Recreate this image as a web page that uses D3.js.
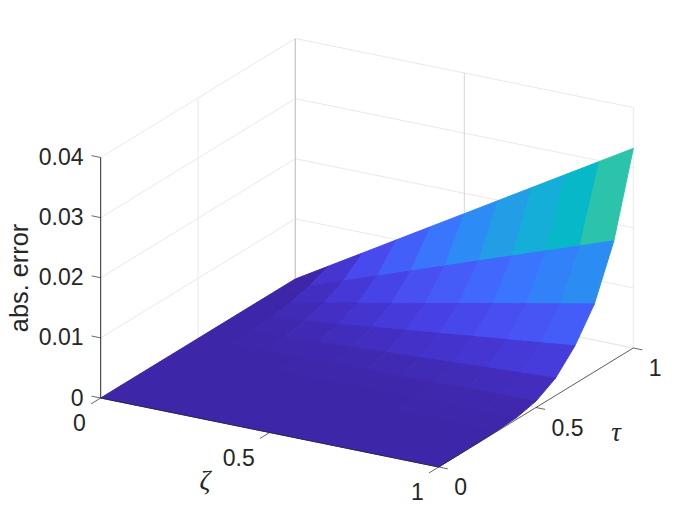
<!DOCTYPE html>
<html><head><meta charset="utf-8">
<script src="https://cdn.jsdelivr.net/npm/d3@7"></script>
<style>html,body{margin:0;padding:0;background:#fff}svg{display:block}</style>
</head><body><svg id="c" width="700" height="525"></svg>
<script>
const zetaValues = [0, 0.1, 0.2, 0.3, 0.4, 0.5, 0.6, 0.7, 0.8, 0.9, 1];
const tauValues  = [0, 0.1, 0.2, 0.3, 0.4, 0.5, 0.6, 0.7, 0.8, 0.9, 1];
// absolute error, one row per tau, one column per zeta
const row00 = [0,0,0,0,0,0,0,0,0,0,0];
const row01 = [0,0,0,0,0,0.00001,0.00001,0.00001,0.00001,0.00001,0.00001];
const row02 = [0,0,0.00001,0.00001,0.00001,0.00002,0.00002,0.00002,0.00002,0.00003,0.00003];
const row03 = [0,0.00001,0.00002,0.00003,0.00004,0.00005,0.00006,0.00007,0.00008,0.00009,0.0001];
const row04 = [0,0.00003,0.00006,0.00009,0.00012,0.00015,0.00018,0.00021,0.00024,0.00027,0.0003];
const row05 = [0,0.00011,0.00021,0.00032,0.00043,0.00054,0.00064,0.00075,0.00086,0.00096,0.00107];
const row06 = [0,0.00029,0.00058,0.00087,0.00116,0.00145,0.00174,0.00203,0.00232,0.00261,0.0029];
const row07 = [0,0.00063,0.00126,0.00189,0.00252,0.00315,0.00378,0.00441,0.00504,0.00567,0.0063];
const row08 = [0,0.00113,0.00226,0.00339,0.00452,0.00565,0.00678,0.00791,0.00904,0.01017,0.0113];
const row09 = [0,0.00198,0.00396,0.00594,0.00792,0.0099,0.01188,0.01386,0.01584,0.01782,0.0198];
const row10 = [0,0.00332,0.00664,0.00996,0.01328,0.0166,0.01992,0.02324,0.02656,0.02988,0.0332];
const errorRows = [row00,row01,row02,row03,row04,row05,row06,row07,row08,row09,row10];
const zetaTicks = [0, 0.5, 1];
const tauTicks  = [0, 0.5, 1];
const zTicks    = [0, 0.01, 0.02, 0.03, 0.04];
const zTickLabels = ["0","0.01","0.02","0.03","0.04"];
const paletteAt    = [0, 0.048, 0.095, 0.143, 0.222, 0.286, 0.333, 0.429, 0.5, 0.54, 0.714, 0.857, 1];
const paletteStops = ["#3e26a8","#4432cb","#4741e5","#4852f4","#3e6fff","#2e87f7","#2796eb","#12b1d6","#02bcc2","#2fc5a8","#abc739","#fec338","#f9fb14"];

// oblique projection, built from scales
const zetaX = d3.scaleLinear().domain([0,1]).range([0,338]);
const zetaY = d3.scaleLinear().domain([0,1]).range([0,69]);
const tauX  = d3.scaleLinear().domain([0,1]).range([0,194.6]);
const tauY  = d3.scaleLinear().domain([0,1]).range([0,-119]);
const zY    = d3.scaleLinear().domain([0,0.04]).range([0,-240.5]);
const originX = 100.7, originY = 398;
const px = (a,t) => originX + zetaX(a) + tauX(t);
const py = (a,t,e) => originY + zetaY(a) + tauY(t) + zY(e);
const P = (a,t,e) => [px(a,t), py(a,t,e)];

const zMax = d3.max(errorRows.flat());
const color = d3.scaleLinear()
  .domain(paletteAt.map(f => f*zMax))
  .range(paletteStops).interpolate(d3.interpolateRgb).clamp(true);

const svg = d3.select("#c");
const line = (p,q,stroke,w) => svg.append("line")
  .attr("x1",p[0]).attr("y1",p[1]).attr("x2",q[0]).attr("y2",q[1])
  .attr("stroke",stroke).attr("stroke-width",w);

const gridC = "#e9e9e9", axisC = "#262626";
const zTop = zTicks[zTicks.length-1];
zTicks.forEach(z => {
  line(P(0,0,z),P(0,1,z),gridC,1);
  line(P(0,1,z),P(1,1,z),gridC,1);
});
tauTicks.forEach(t => { if (t>0) line(P(0,t,0),P(0,t,zTop),gridC,1); });
zetaTicks.forEach(a => line(P(a,1,0),P(a,1,zTop),a===0.5?"#d4d4d4":gridC,1));
line(P(0,1,0),P(0,1,zTop),"#c4c4c4",1);
zetaTicks.forEach(a => line(P(a,0,0),P(a,1,0),gridC,1));
tauTicks.forEach(t => line(P(0,t,0),P(1,t,0),gridC,1));

// surface, far to near, each facet coloured from its low corner
const facets = [];
d3.range(tauValues.length-2,-1,-1).forEach(j => d3.range(0,zetaValues.length-1).forEach(i => facets.push([i,j])));
svg.append("g").selectAll("path").data(facets).join("path")
  .attr("d",([i,j]) => {
    const a0=zetaValues[i],a1=zetaValues[i+1],t0=tauValues[j],t1=tauValues[j+1],R=errorRows;
    return "M"+[P(a0,t0,R[j][i]),P(a1,t0,R[j][i+1]),P(a1,t1,R[j+1][i+1]),P(a0,t1,R[j+1][i])].join("L")+"Z";
  })
  .attr("fill",([i,j]) => color(errorRows[j][i]))
  .attr("stroke",([i,j]) => color(errorRows[j][i]))
  .attr("stroke-width",1).attr("stroke-linejoin","round");

// axes
line(P(0,0,0),P(0,0,zTop),axisC,1);
line(P(0,0,0),P(1,0,0),axisC,0.7);
line(P(1,0,0),P(1,1,0),axisC,0.7);
const tickZeta = 0.027, tickTau = 0.05;
zTicks.forEach(z => line(P(0,0,z),P(-tickZeta,0,z),axisC,0.7));
zetaTicks.forEach(a => line(P(a,0,0),P(a,-tickTau,0),axisC,0.7));
tauTicks.forEach(t => line(P(1,t,0),P(1+tickZeta,t,0),axisC,0.7));

const label = (x,y,s,anchor) => svg.append("text").attr("x",x).attr("y",y).text(s)
  .attr("text-anchor",anchor).attr("dominant-baseline","central")
  .attr("font-family","'Liberation Sans',Arial,sans-serif").attr("font-size",23).attr("fill",axisC);
zTicks.forEach((z,i) => label(px(0,0)-17.2,py(0,0,z)-0.5,zTickLabels[i],"end"));
zetaTicks.forEach(a => label(px(a,0)-15,py(a,0,0)+25,String(a),"end"));
tauTicks.forEach(t => label(px(1,t)+15.5,py(1,t,0)+20,String(t),"start"));

svg.append("text").attr("transform","translate(28,278) rotate(-90)").text("abs. error")
  .attr("text-anchor","middle")
  .attr("font-family","'Liberation Sans',Arial,sans-serif").attr("font-size",25.3).attr("fill",axisC);
const greek = (x,y,s) => svg.append("text").attr("x",x).attr("y",y).text(s)
  .attr("text-anchor","middle").attr("dominant-baseline","central")
  .attr("font-family","'Liberation Serif',serif").attr("font-style","italic").attr("font-size",27).attr("fill",axisC);
greek(205,480,"ζ");
greek(616,432,"τ");
</script></body></html>
